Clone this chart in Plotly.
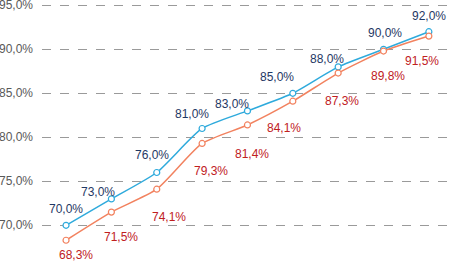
import plotly.graph_objects as go

periods = list(range(9))
series_blue = [70.0, 73.0, 76.0, 81.0, 83.0, 85.0, 88.0, 90.0, 92.0]
series_red = [68.3, 71.5, 74.1, 79.3, 81.4, 84.1, 87.3, 89.8, 91.5]
y_ticks = [70, 75, 80, 85, 90, 95]

# label offsets (style only, pixels)
blue_shift = [(0, 16), (-13, 7), (-5, 17), (-10, 14), (-15, 7), (-16, 16), (-11, 8), (1, 16), (0, 16)]
red_shift = [(10, -15), (10, -25), (12, -28), (9, -28), (5, -29), (-9, -27), (4, -28), (4, -25), (-7, -25)]

BLUE_LINE = "#2EAADC"
RED_LINE = "#F2825F"
BLUE_TXT = "#1F3864"
RED_TXT = "#C0201E"
FONT = "Liberation Sans"

def fmt(v):
    return f"{v:.1f}%".replace(".", ",")

fig = go.Figure()
fig.add_trace(go.Scatter(
    x=periods, y=series_blue, mode="lines+markers",
    line=dict(color=BLUE_LINE, width=1.5, shape="spline", smoothing=0.6),
    marker=dict(symbol="circle", size=6, color="white", line=dict(color=BLUE_LINE, width=1.2)),
    showlegend=False, hoverinfo="skip", cliponaxis=False))
fig.add_trace(go.Scatter(
    x=periods, y=series_red, mode="lines+markers",
    line=dict(color=RED_LINE, width=1.5, shape="spline", smoothing=0.6),
    marker=dict(symbol="circle", size=6, color="white", line=dict(color=RED_LINE, width=1.2)),
    showlegend=False, hoverinfo="skip", cliponaxis=False))

for x, y, (dx, dy) in zip(periods, series_blue, blue_shift):
    fig.add_annotation(x=x, y=y, text=fmt(y), showarrow=False, xshift=dx, yshift=dy,
                       font=dict(family=FONT, size=12, color=BLUE_TXT))
for x, y, (dx, dy) in zip(periods, series_red, red_shift):
    fig.add_annotation(x=x, y=y, text=fmt(y), showarrow=False, xshift=dx, yshift=dy,
                       font=dict(family=FONT, size=12, color=RED_TXT))

fig.update_layout(
    width=452, height=261,
    margin=dict(l=42, r=0, t=0, b=2, autoexpand=False),
    paper_bgcolor="white", plot_bgcolor="white",
    separators=",.",
    xaxis=dict(range=[-0.53, 8.51], showgrid=False, zeroline=False, showticklabels=False,
               showline=False, ticks="", automargin=False),
    yaxis=dict(range=[66.17, 95.6], tickvals=y_ticks, ticktext=[fmt(v) for v in y_ticks],
               showgrid=True, gridcolor="#9A9A9A", griddash="dash", gridwidth=1,
               zeroline=False, showline=False, ticks="", ticklen=0, ticklabelstandoff=8,
               automargin=False, ticklabeloverflow="allow",
               tickfont=dict(family=FONT, size=12, color="#595959")),
)
fig.write_html("out.html", config={"displayModeBar": False},
               post_script="document.body.style.margin='0';document.body.style.overflow='hidden';")
